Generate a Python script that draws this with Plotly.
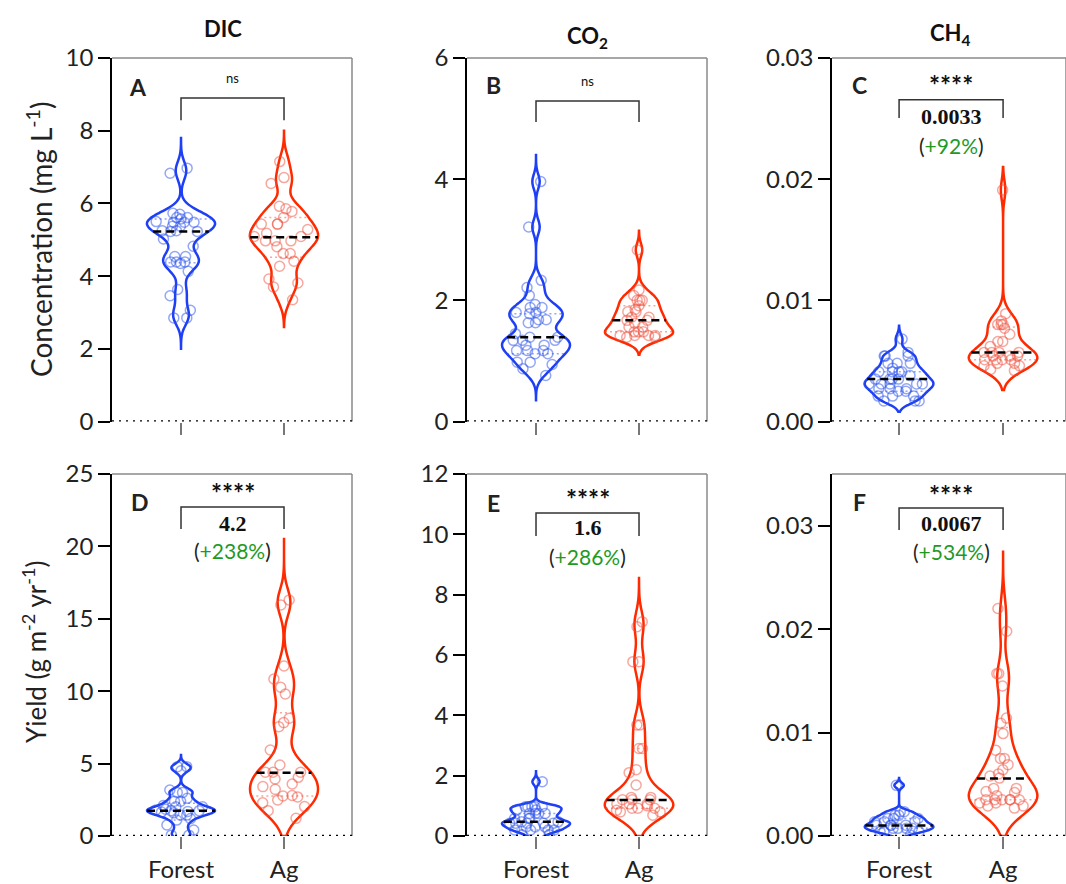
import numpy as np
import plotly.graph_objects as go

# ---------------- data ----------------
groups = ["Forest", "Ag"]

dic_conc_forest = [6.97, 6.83, 5.73, 5.70, 5.61, 5.61, 5.57, 5.50, 5.48, 5.48, 5.48, 5.37, 5.37,
                   5.25, 5.25, 5.23, 5.23, 5.02, 4.82, 4.54, 4.54, 4.39, 4.39, 4.39, 4.35, 4.13,
                   3.63, 3.46, 3.06, 2.85, 2.85]
dic_conc_ag = [7.15, 6.71, 6.55, 5.92, 5.85, 5.78, 5.61, 5.43, 5.43, 5.43, 5.28, 5.18, 5.09, 5.09,
               4.97, 4.97, 4.97, 4.81, 4.62, 4.62, 4.41, 4.27, 3.92, 3.81, 3.70, 3.35]

co2_conc_forest = [3.96, 3.21, 2.33, 2.21, 2.08, 1.93, 1.88, 1.88, 1.80, 1.80, 1.78, 1.68, 1.68,
                   1.63, 1.63, 1.45, 1.39, 1.39, 1.34, 1.34, 1.34, 1.26, 1.26, 1.17, 1.17, 1.17,
                   1.12, 1.12, 0.98, 0.98, 0.94, 0.87, 0.76]
co2_conc_ag = [2.83, 2.17, 2.08, 2.00, 2.00, 2.00, 1.91, 1.85, 1.81, 1.81, 1.72, 1.72, 1.67, 1.67,
               1.62, 1.56, 1.56, 1.48, 1.48, 1.48, 1.42, 1.42, 1.42, 1.42, 1.39, 1.39]

ch4_conc_forest = [0.0068, 0.0057, 0.0054, 0.0054, 0.0054, 0.0048, 0.0048, 0.0048, 0.0044,
                   0.0041, 0.0041, 0.0041, 0.0041, 0.0038, 0.0035, 0.0035, 0.0035, 0.0035,
                   0.0031, 0.0031, 0.0031, 0.0031, 0.0031, 0.0027, 0.0027, 0.0027, 0.0025,
                   0.0025, 0.0021, 0.0021, 0.0021, 0.0017, 0.0017, 0.0017]
ch4_conc_ag = [0.0191, 0.0089, 0.0083, 0.0080, 0.0080, 0.0080, 0.0077, 0.0072, 0.0066, 0.0066,
               0.0062, 0.0057, 0.0057, 0.0057, 0.0057, 0.0054, 0.0054, 0.0054, 0.0051, 0.0051,
               0.0051, 0.0051, 0.0048, 0.0048, 0.0046, 0.0046, 0.0043, 0.0042]

dic_yield_forest = [4.79, 4.79, 4.50, 3.18, 3.00, 3.00, 2.60, 2.40, 2.40, 2.10, 2.02, 2.02, 1.85,
                    1.80, 1.75, 1.75, 1.70, 1.65, 1.60, 1.45, 1.45, 1.20, 1.10, 0.76, 0.41, 0.06,
                    0.06]
dic_yield_ag = [16.3, 15.95, 11.74, 10.84, 10.27, 9.81, 8.13, 7.83, 7.55, 5.94, 4.90, 4.40, 4.40,
                4.40, 4.05, 3.94, 3.59, 3.41, 3.22, 2.80, 2.76, 2.70, 2.49, 2.30, 2.03, 1.75, 1.22]

co2_yield_forest = [1.80, 0.97, 0.97, 0.97, 0.97, 0.97, 0.86, 0.86, 0.75, 0.75, 0.75, 0.75, 0.58,
                    0.58, 0.58, 0.47, 0.47, 0.42, 0.42, 0.42, 0.42, 0.42, 0.30, 0.30, 0.30, 0.20,
                    0.20, 0.20, 0.20, 0.04, 0.04]
co2_yield_ag = [7.10, 6.94, 5.78, 5.78, 3.68, 3.68, 2.90, 2.90, 2.20, 2.10, 1.69, 1.28, 1.28, 1.20,
                1.20, 1.20, 1.06, 1.06, 1.06, 1.00, 0.92, 0.92, 0.92, 0.85, 0.80, 0.80, 0.69]

ch4_yield_forest = [0.0049, 0.00235, 0.00235, 0.0020, 0.0020, 0.0017, 0.0017, 0.0017, 0.00138,
                    0.00138, 0.00138, 0.00105, 0.00105, 0.00105, 0.00105, 0.00074, 0.00074,
                    0.00074, 0.00074, 0.00042, 0.00042, 0.00042, 0.0001]
ch4_yield_ag = [0.0220, 0.0198, 0.0157, 0.0157, 0.0145, 0.0114, 0.0109, 0.0099, 0.0083, 0.0075,
                0.0075, 0.0069, 0.0064, 0.0060, 0.0058, 0.0056, 0.0046, 0.0046, 0.0043, 0.0042,
                0.0039, 0.0035, 0.0035, 0.0035, 0.0035, 0.0035, 0.0035, 0.0032, 0.0032, 0.0029,
                0.0029, 0.0027]

forest_series = [dic_conc_forest, co2_conc_forest, ch4_conc_forest,
                 dic_yield_forest, co2_yield_forest, ch4_yield_forest]
ag_series = [dic_conc_ag, co2_conc_ag, ch4_conc_ag, dic_yield_ag, co2_yield_ag, ch4_yield_ag]

median_forest = [5.23, 1.39, 0.0035, 1.75, 0.47, 0.00101]
median_ag = [5.07, 1.67, 0.0057, 4.37, 1.19, 0.00556]
q1_forest = [4.37, 1.12, 0.0025, 1.10, 0.20, 0.00074]
q1_ag = [4.52, 1.48, 0.0051, 2.76, 0.92, 0.0035]
q3_forest = [5.57, 1.78, 0.0041, 2.26, 0.75, 0.0017]
q3_ag = [5.61, 1.91, 0.0078, 8.52, 2.90, 0.0105]

panel_letters = ["A", "B", "C", "D", "E", "F"]
column_titles = ["DIC", "CO<sub>2</sub>", "CH<sub>4</sub>"]
sig_labels = ["ns", "ns", "****", "****", "****", "****"]
diff_labels = ["", "", "0.0033", "4.2", "1.6", "0.0067"]
pct_labels = ["", "", "+92%", "+238%", "+286%", "+534%"]
y_tick_values = [[0, 2, 4, 6, 8, 10], [0, 2, 4, 6], [0, 0.01, 0.02, 0.03],
                 [0, 5, 10, 15, 20, 25], [0, 2, 4, 6, 8, 10, 12], [0, 0.01, 0.02, 0.03]]
y_tick_text = [["0", "2", "4", "6", "8", "10"], ["0", "2", "4", "6"],
               ["0.00", "0.01", "0.02", "0.03"], ["0", "5", "10", "15", "20", "25"],
               ["0", "2", "4", "6", "8", "10", "12"], ["0.00", "0.01", "0.02", "0.03"]]
y_titles = ["Concentration (mg L<sup>-1</sup>)", "Yield (g m<sup>-2</sup> yr<sup>-1</sup>)"]

# ---------------- styles ----------------
W, H = 1066, 884
FONT = "Lato"
SERIF = "Liberation Serif"
BLUE = "#1e3ff5"
RED = "#ff2a00"
BLUE_PT = "rgba(40,80,235,0.5)"
RED_PT = "rgba(240,80,60,0.5)"
GREEN = "#1f9a1f"
FRAME_GRAY = "#8a8a8a"

y_range_top = [10, 6, 0.03, 25, 12, 0.035]
bandwidths = [(0.24, 0.26), (0.12, 0.11), (0.0004, 0.0008),
              (0.24, 0.9), (0.10, 0.42), (0.00024, 0.0015)]
spans = [((2.0, 7.8), (2.6, 8.0)), ((0.35, 4.4), (1.1, 3.15)), ((0.0008, 0.0079), (0.0026, 0.021)),
         ((-0.8, 5.6), (0.0, 20.6)), ((-0.3, 2.19), (0.0, 8.55)), ((-0.0008, 0.0056), (0.0, 0.0276))]
VW = 0.66  # violin full width in category units

col_px = [(112, 352), (467, 707), (832, 1066)]
row_px = [(58, 421.5), (474, 836)]
x_ranges = [[-0.67, 1.66], [-0.67, 1.66], [-0.645, 1.605]]

# bracket / text placement (fractions of y-domain)
bracket_top = [0.890, 0.882, 0.885, 0.909, 0.892, 0.906]
bracket_leg = [0.829, 0.824, 0.835, 0.848, 0.829, 0.845]
sig_y = [0.945, 0.937, 0.925, 0.948, 0.932, 0.942]
diff_y = [0, 0, 0.840, 0.864, 0.853, 0.864]
pct_y = [0, 0, 0.758, 0.790, 0.773, 0.787]
letter_px = [(138, 87), (493, 85), (859, 85), (140, 502), (493, 503), (859, 502)]
title_px = [(223, 28), (587, 37), (950, 34)]


def kde(vals, bw, t):
    v = np.asarray(vals, dtype=float)
    t = np.atleast_1d(np.asarray(t, dtype=float))
    return np.exp(-0.5 * ((t[:, None] - v[None, :]) / bw) ** 2).sum(axis=1)


def half_width(vals, bw, span, t):
    grid = np.linspace(span[0], span[1], 800)
    mx = kde(vals, bw, grid).max()
    return VW / 2 * kde(vals, bw, t)[0] / mx


def ann(**kw):
    base = dict(showarrow=False, xanchor="center", yanchor="middle")
    base.update(kw)
    return base


fig = go.Figure()
layout = dict(width=W, height=H, margin=dict(l=0, r=0, t=0, b=0, autoexpand=False), autosize=False,
              paper_bgcolor="white", plot_bgcolor="white", violinmode="overlay",
              showlegend=False, font=dict(family=FONT, size=24, color="#222"))
shapes, annotations = [], []

for i in range(6):
    k = i + 1
    r, c = divmod(i, 3)
    xa = "x" if k == 1 else f"x{k}"
    ya = "y" if k == 1 else f"y{k}"
    x0p, x1p = col_px[c]
    y0p, y1p = row_px[r]
    layout[f"xaxis{'' if k == 1 else k}"] = dict(
        domain=[x0p / W, x1p / W], anchor=ya, type="category", automargin=False,
        categoryorder="array", categoryarray=groups, range=x_ranges[c],
        showline=False, showgrid=False, zeroline=False, ticks="outside", ticklen=12,
        tickwidth=1.5, tickcolor="#777", showticklabels=(r == 1),
        tickfont=dict(family=FONT, size=24, color="#222"))
    layout[f"yaxis{'' if k == 1 else k}"] = dict(
        domain=[1 - y1p / H, 1 - y0p / H], anchor=xa, range=[0, y_range_top[i]],
        automargin=False,
        showline=True, linecolor="black", linewidth=1.5, showgrid=False, zeroline=False,
        ticks="outside", ticklen=12, tickwidth=1.5, tickcolor="black",
        tickvals=y_tick_values[i], ticktext=y_tick_text[i],
        tickfont=dict(family=FONT, size=24, color="#222"))

    for g, (vals, lc, pc) in enumerate([(forest_series[i], BLUE, BLUE_PT),
                                        (ag_series[i], RED, RED_PT)]):
        fig.add_trace(go.Violin(
            x=[groups[g]] * len(vals), y=vals, xaxis=xa, yaxis=ya,
            line=dict(color=lc, width=2.5), fillcolor="rgba(255,255,255,0)",
            points="all", pointpos=0, jitter=0.9,
            marker=dict(symbol="circle-open", size=10, color=pc, line=dict(width=1.5)),
            bandwidth=bandwidths[i][g], spanmode="manual", span=list(spans[i][g]),
            width=VW, scalemode="width", side="both", hoverinfo="skip",
            box_visible=False, meanline_visible=False, showlegend=False))

        bw = bandwidths[i][g]
        sp = spans[i][g]
        med = [median_forest, median_ag][g][i]
        q1 = [q1_forest, q1_ag][g][i]
        q3 = [q3_forest, q3_ag][g][i]
        for qv in (q1, q3):
            hw = half_width(vals, bw, sp, qv)
            shapes.append(dict(type="line", xref=xa, yref=ya, x0=g - hw, x1=g + hw,
                               y0=qv, y1=qv, line=dict(color=pc, width=1.5, dash="2px,3px")))
        hw = half_width(vals, bw, sp, med)
        shapes.append(dict(type="line", xref=xa, yref=ya, x0=g - hw, x1=g + hw, y0=med, y1=med,
                           line=dict(color="black", width=2.5, dash="8px,5px")))

    # frame: top and right gray lines
    shapes.append(dict(type="line", xref=f"{xa} domain", yref=f"{ya} domain",
                       x0=0, x1=1, y0=1, y1=1, line=dict(color=FRAME_GRAY, width=1.5)))
    shapes.append(dict(type="line", xref=f"{xa} domain", yref=f"{ya} domain",
                       x0=1, x1=1, y0=0, y1=1, line=dict(color=FRAME_GRAY, width=1.5)))
    # dotted zero line
    shapes.append(dict(type="line", xref=f"{xa} domain", yref=ya, x0=0, x1=1, y0=0, y1=0,
                       line=dict(color="black", width=2.5, dash="2px,5px")))
    # significance bracket
    shapes.append(dict(type="path", xref=xa, yref=f"{ya} domain",
                       path=f"M 0,{bracket_leg[i]} L 0,{bracket_top[i]} L 1,{bracket_top[i]} L 1,{bracket_leg[i]}",
                       line=dict(color="#333", width=1.5)))
    bold = sig_labels[i] != "ns"
    annotations.append(ann(xref=xa, yref=f"{ya} domain", x=0.5, y=sig_y[i],
                           text=f"<b>{sig_labels[i]}</b>" if bold else sig_labels[i],
                           font=dict(family=FONT, size=26 if bold else 13, color="#111")))
    if diff_labels[i]:
        annotations.append(ann(xref=xa, yref=f"{ya} domain", x=0.5, y=diff_y[i],
                               text=f"<b>{diff_labels[i]}</b>",
                               font=dict(family=SERIF, size=22, color="#111")))
        annotations.append(ann(xref=xa, yref=f"{ya} domain", x=0.5, y=pct_y[i],
                               text=f"(<span style='color:{GREEN}'>{pct_labels[i]}</span>)",
                               font=dict(family=FONT, size=21, color="#222")))
    lx, ly = letter_px[i]
    annotations.append(ann(xref="paper", yref="paper", x=lx / W, y=1 - ly / H,
                           text=f"<b>{panel_letters[i]}</b>",
                           font=dict(family=FONT, size=23, color="#222")))

for c in range(3):
    tx, ty = title_px[c]
    annotations.append(ann(xref="paper", yref="paper", x=tx / W, y=1 - ty / H,
                           text=f"<b>{column_titles[c]}</b>",
                           font=dict(family=FONT, size=22, color="#111")))

annotations.append(ann(xref="paper", yref="paper", x=40 / W, y=1 - 240 / H, textangle=-90,
                       text=y_titles[0], font=dict(family=FONT, size=28, color="#222")))
annotations.append(ann(xref="paper", yref="paper", x=34 / W, y=1 - 652 / H, textangle=-90,
                       text=y_titles[1], font=dict(family=FONT, size=26, color="#222")))

layout["shapes"] = shapes
layout["annotations"] = annotations
fig.update_layout(**layout)

fig.write_html("out.html", config={"displayModeBar": False},
               post_script="document.body.style.margin='0px';")
